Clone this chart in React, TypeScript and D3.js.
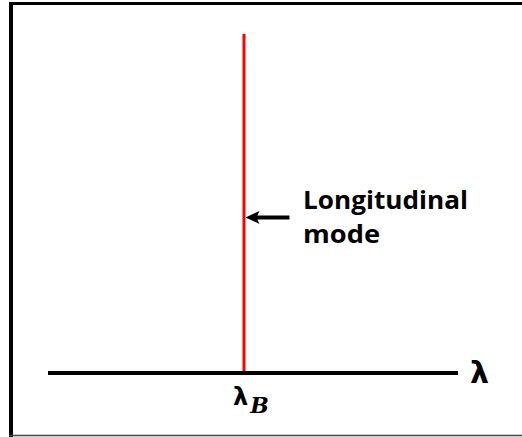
import React, { useEffect, useRef } from 'react';
import * as d3 from 'd3';

// normalized wavelength axis, one longitudinal mode at the Bragg wavelength
const axisDomain = [0, 1];
const modePositions = [0.478];
const modeHeights = [1];
const arrowLevel = [0.459];
const annotationLines = ['Longitudinal', 'mode'];
const axisLabel = 'λ';
const braggLabel = ['λ', 'B'];

const W = 522;
const H = 437;

const App = () => {
  const ref = useRef<SVGSVGElement>(null);

  useEffect(() => {
    const svg = d3.select(ref.current);
    svg.selectAll('*').remove();

    const x = d3.scaleLinear().domain(axisDomain).range([48, 458]);
    const y = d3.scaleLinear().domain([0, 1]).range([373, 34]);

    // frame (left, top thick, bottom thin)
    svg.append('line')
      .attr('x1', 11).attr('x2', 11).attr('y1', 2).attr('y2', H)
      .attr('stroke', '#000').attr('stroke-width', 4);
    svg.append('line')
      .attr('x1', 9).attr('x2', W).attr('y1', 3.5).attr('y2', 3.5)
      .attr('stroke', '#000').attr('stroke-width', 3);
    svg.append('line')
      .attr('x1', 9).attr('x2', W).attr('y1', 435.5).attr('y2', 435.5)
      .attr('stroke', '#444').attr('stroke-width', 1.5);

    // mode line(s)
    svg.selectAll('.mode')
      .data(modePositions)
      .enter().append('line')
      .attr('class', 'mode')
      .attr('x1', d => x(d)).attr('x2', d => x(d))
      .attr('y1', y(0)).attr('y2', (d, i) => y(modeHeights[i]))
      .attr('stroke', '#ff0000').attr('stroke-width', 3);

    // wavelength axis
    svg.append('line')
      .attr('x1', x(axisDomain[0])).attr('x2', x(axisDomain[1]))
      .attr('y1', y(0)).attr('y2', y(0))
      .attr('stroke', '#000').attr('stroke-width', 4);

    svg.append('text')
      .attr('x', x(axisDomain[1]) + 12).attr('y', y(0) + 10)
      .attr('font-family', 'DejaVu Sans, sans-serif')
      .attr('font-weight', 'bold').attr('font-size', 30)
      .attr('fill', '#000')
      .text(axisLabel);

    // lambda_B label
    const lb = svg.append('text')
      .attr('x', x(modePositions[0]) - 11).attr('y', 405)
      .attr('font-family', 'DejaVu Sans, sans-serif')
      .attr('font-weight', 'bold').attr('font-size', 24)
      .attr('fill', '#000');
    lb.append('tspan').text(braggLabel[0]);
    lb.append('tspan')
      .attr('dx', 2).attr('dy', 8)
      .attr('font-family', 'DejaVu Serif, serif')
      .attr('font-style', 'italic').attr('font-size', 22)
      .text(braggLabel[1]);

    // annotation arrow
    const ax = x(modePositions[0]) + 1.5;
    const ay = y(arrowLevel[0]);
    svg.append('line')
      .attr('x1', ax + 10).attr('x2', ax + 44)
      .attr('y1', ay).attr('y2', ay)
      .attr('stroke', '#000').attr('stroke-width', 4);
    svg.append('path')
      .attr('d', `M${ax},${ay} L${ax + 14},${ay - 6.5} L${ax + 11},${ay} L${ax + 14},${ay + 6.5} Z`)
      .attr('fill', '#000');

    svg.selectAll('.note')
      .data(annotationLines)
      .enter().append('text')
      .attr('class', 'note')
      .attr('x', 303)
      .attr('y', (d, i) => 209 + i * 34)
      .attr('font-family', 'Open Sans, sans-serif')
      .attr('font-weight', 'bold').attr('font-size', 25)
      .attr('fill', '#000')
      .attr('textLength', (d, i) => (i === 0 ? 165 : 77))
      .attr('lengthAdjust', 'spacingAndGlyphs')
      .text(d => d);
  }, []);

  return (
    <svg ref={ref} width={W} height={H}
      style={{ position: 'absolute', left: 0, top: 0, background: '#fff' }} />
  );
};

export default App;
